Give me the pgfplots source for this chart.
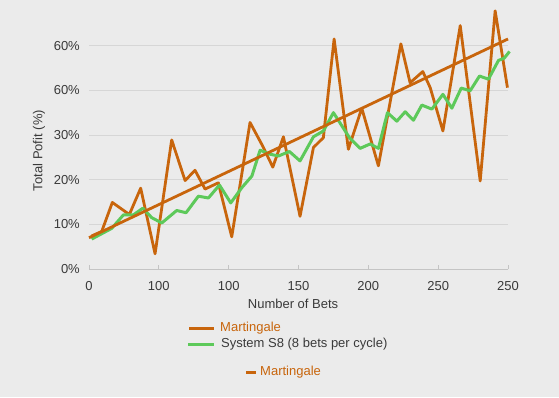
\documentclass[border=0pt]{standalone}
\usepackage{pgfplots}
\pgfplotsset{compat=1.18}
\usepackage{fontspec}
\setmainfont{Liberation Sans}
\definecolor{bg}{HTML}{EBEBEB}
\definecolor{org}{HTML}{C8650C}
\definecolor{grn}{HTML}{5DC95A}
\definecolor{txt}{HTML}{3A3A3A}
\definecolor{gridc}{HTML}{D6D6D6}
\definecolor{axc}{HTML}{C4C4C4}
\begin{document}
\begin{tikzpicture}[x=1pt,y=1pt]
\fill[bg] (0,0) rectangle (559,397);
\useasboundingbox (0,0) rectangle (559,397);
\begin{axis}[
  at={(89pt,128pt)}, anchor=south west,
  scale only axis, width=419pt, height=268pt,
  xmin=0, xmax=300, ymin=0, ymax=60,
  clip=false,
  axis x line*=bottom, axis y line*=left,
  x axis line style={draw=axc, line width=0.8pt, -},
  y axis line style={draw=none},
  ytick style={draw=none},
  xtick style={draw=axc, line width=0.8pt},
  tick align=inside, major tick length=4pt,
  xtick={0,50,...,300},
  xticklabels={0,100,100,150,200,250,250},
  ytick={0,10,...,50},
  yticklabels={0\%,10\%,20\%,30\%,60\%,60\%},
  ymajorgrids, grid style={draw=gridc, line width=0.8pt},
  tick label style={font=\fontsize{13}{15}\selectfont, text=txt},
  yticklabel style={inner sep=0pt, xshift=-9pt},
  xticklabel style={inner sep=0pt, yshift=-12pt},
  xlabel={Number of Bets},
  ylabel={Total Pofit (\%)},
  label style={font=\fontsize{13}{15}\selectfont, text=txt},
  xlabel style={at={(axis description cs:0.487,0)}, anchor=center, yshift=-35pt},
  ylabel style={at={(axis description cs:0,0.442)}, anchor=center, rotate=0, yshift=50pt},
]
\addplot[org, line width=2.8pt, line join=round] coordinates {
(1.9,7.4) (9.1,8.4) (16.7,14.9) (28.9,12.2) (37.0,18.1) (47.3,3.4)
(59.2,28.9) (68.8,19.8) (75.9,22.1) (83.1,17.9) (92.6,19.3) (102.2,7.2)
(115.3,32.8) (124.4,27.5) (131.6,22.8) (139.2,29.6) (151.1,11.8) (160.7,27.2)
(167.8,29.4) (175.5,51.5) (185.7,26.8) (195.3,36.0) (207.2,23.1) (223.3,50.4)
(229.9,41.7) (239.0,44.2) (244.3,40.6) (253.4,30.9) (265.8,54.5) (280.1,19.7)
(290.8,57.8) (299.6,40.6)
};
\addplot[grn, line width=3pt, line join=round] coordinates {
(1.9,6.7) (16.3,9.1) (24.6,12.1) (31.7,12.1) (38.5,13.6) (44.9,11.5)
(52.1,10.3) (62.8,13.1) (69.5,12.6) (78.3,16.3) (85.5,15.9) (93.4,18.8)
(101.5,14.8) (109.4,18.2) (116.6,20.8) (122.5,26.6) (129.7,25.7) (135.6,25.3)
(143.5,26.3) (151.1,24.2) (160.7,29.6) (167.8,30.9) (175.0,35.0) (186.5,29.4)
(194.1,27.0) (201.3,28.0) (207.2,27.0) (213.7,35.0) (220.4,33.1) (226.4,35.2)
(232.3,33.3) (238.3,36.7) (245.5,35.8) (253.4,39.1) (259.8,36.0) (266.5,40.5)
(272.9,39.9) (279.6,43.2) (286.0,42.5) (293.2,46.7) (297.3,47.2) (301.1,48.7)
};
\addplot[org, line width=2.8pt] coordinates {(0,7.0) (300,51.5)};
\end{axis}
% legend
\draw[org, line width=3pt] (189,69) -- (214,69);
\node[anchor=west, inner sep=0pt, text=org, font=\fontsize{13}{15}\selectfont] at (220,69) {Martingale};
\draw[grn, line width=3pt] (188,53) -- (214,53);
\node[anchor=west, inner sep=0pt, text=txt, font=\fontsize{13}{15}\selectfont] at (221,53) {System S8 (8 bets per cycle)};
\draw[org, line width=3pt] (246,25) -- (256,25);
\node[anchor=west, inner sep=0pt, text=org, font=\fontsize{13}{15}\selectfont] at (260,25) {Martingale};
\end{tikzpicture}
\end{document}
